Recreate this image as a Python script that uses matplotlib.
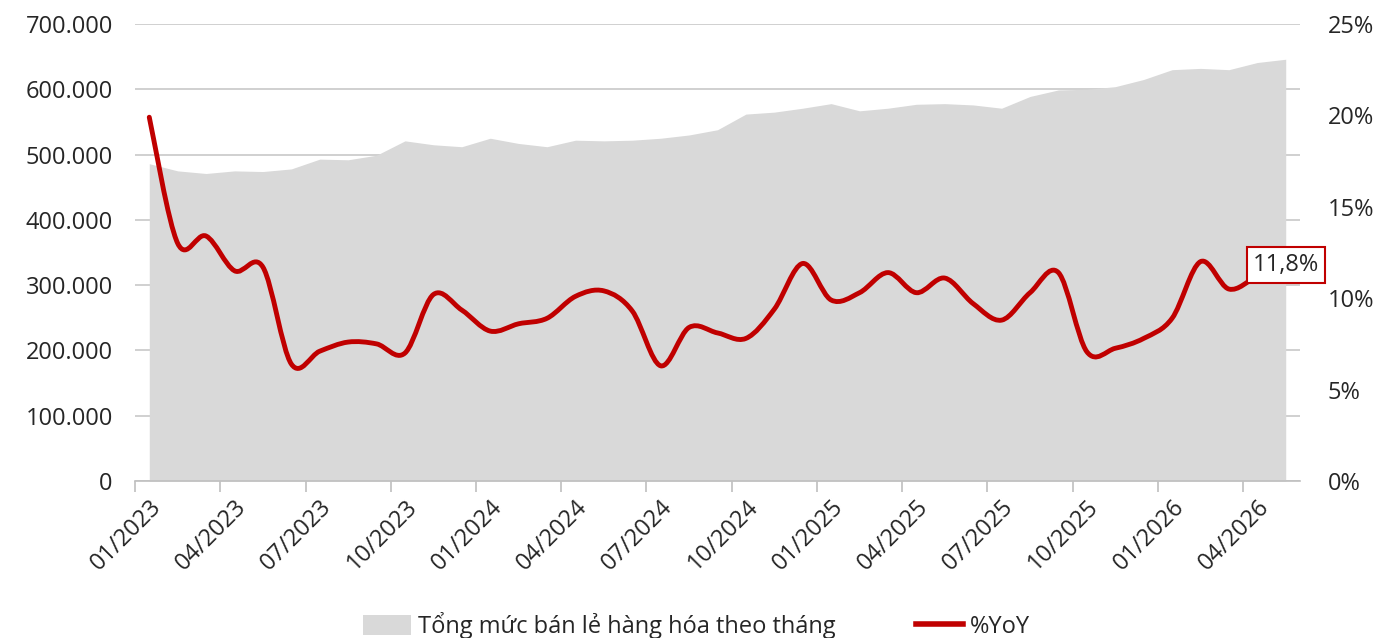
import matplotlib
matplotlib.use("Agg")
import matplotlib.pyplot as plt
import numpy as np
from matplotlib.path import Path
from matplotlib.patches import PathPatch, Patch
from matplotlib.lines import Line2D

plt.rcParams['font.family'] = ['Open Sans', 'DejaVu Sans']

# ---- Data ----
months = [f"{m:02d}/{y}" for y in (2023, 2024, 2025, 2026) for m in range(1, 13)][:41]

# Tổng mức bán lẻ hàng hóa theo tháng (left axis)
retail = [486000, 475000, 471000, 475000, 474000, 478000, 493000, 492000, 499000, 521000,
          515000, 512000, 525000, 517000, 512000, 522000, 521000, 522000, 525000, 530000,
          538000, 562000, 565000, 571000, 578000, 567000, 571000, 577000, 578000, 576000,
          571000, 589000, 599000, 600000, 604000, 615000, 630000, 632000, 630000, 641000,
          646000]

# %YoY (right axis)
yoy = [19.9, 13.0, 13.4, 11.5, 11.7, 6.4, 7.1, 7.6, 7.5, 7.0,
       10.2, 9.35, 8.2, 8.6, 8.9, 10.1, 10.4, 9.3, 6.3, 8.4,
       8.1, 7.8, 9.4, 11.9, 9.9, 10.3, 11.4, 10.3, 11.1, 9.7,
       8.8, 10.3, 11.4, 7.07, 7.26, 7.8, 8.9, 12.0, 10.5, 11.2,
       11.8]

left_ticks = [0, 100000, 200000, 300000, 400000, 500000, 600000, 700000]
right_ticks = [0, 5, 10, 15, 20, 25]

RED = '#C00000'
GREY = '#D9D9D9'
TXT = '#262626'
FS = 17


def smooth_path(xs, ys):
    # Excel-like smoothed line: Catmull-Rom segments as cubic Bezier curves
    pts = np.column_stack([xs, ys]).astype(float)
    n = len(pts)
    verts = [pts[0]]
    codes = [Path.MOVETO]
    for i in range(n - 1):
        p0 = pts[i - 1] if i > 0 else pts[i]
        p1 = pts[i]
        p2 = pts[i + 1]
        p3 = pts[i + 2] if i + 2 < n else pts[i + 1]
        verts += [p1 + (p2 - p0) / 6, p2 - (p3 - p1) / 6, p2]
        codes += [Path.CURVE4] * 3
    return Path(verts, codes)


x = np.arange(len(months))

fig = plt.figure(figsize=(13.74, 6.38), dpi=100)
ax = fig.add_axes([0.0983, 0.2461, 0.8478, 0.7163])
ax2 = ax.twinx()

# area series
ax.fill_between(x, retail, 0, color=GREY, lw=0, zorder=2)
ax.set_ylim(0, 700000)
ax.set_xlim(-0.5, len(months) - 0.5)
ax.set_yticks(left_ticks)
ax.set_yticklabels([f"{v:,}".replace(",", ".") for v in left_ticks])
ax.grid(axis='y', color='#C8C8C8', lw=1.2, zorder=0)
ax.set_axisbelow(True)

# x axis: labels every 3 months, tick marks between categories
ax.set_xticks(x[::3])
ax.set_xticklabels(months[::3], rotation=45, ha='right', va='top', rotation_mode='anchor')
ax.set_xticks(np.arange(-0.5, len(months) - 1, 3), minor=True)
ax.tick_params(axis='x', which='major', length=0, pad=10, labelsize=FS, colors=TXT)
ax.tick_params(axis='x', which='minor', length=8, width=1.2, color='#BFBFBF')
ax.tick_params(axis='y', length=0, pad=16, labelsize=FS, colors=TXT)

for s in ['top', 'left', 'right']:
    ax.spines[s].set_visible(False)
    ax2.spines[s].set_visible(False)
ax2.spines['bottom'].set_visible(False)
ax.spines['bottom'].set_color('#BFBFBF')
ax.spines['bottom'].set_linewidth(1.2)

# %YoY smoothed line
ax2.set_ylim(0, 25)
ax2.add_patch(PathPatch(smooth_path(x, yoy), fc='none', ec=RED, lw=3.5,
                        capstyle='round', joinstyle='round', zorder=3))
ax2.set_yticks(right_ticks)
ax2.set_yticklabels([f"{v}%" for v in right_ticks])
ax2.tick_params(axis='y', length=0, pad=20, labelsize=FS, colors=TXT)

ax2.annotate(f"{yoy[-1]:.1f}%".replace(".", ","), xy=(x[-1], yoy[-1]),
             ha='center', va='center', fontsize=FS, color=TXT, zorder=5,
             bbox=dict(boxstyle='square,pad=0.25', fc='white', ec=RED, lw=1.5))

handles = [Patch(fc=GREY, ec='none'), Line2D([], [], color=RED, lw=4)]
fig.legend(handles, ['Tổng mức bán lẻ hàng hóa theo tháng', '%YoY'],
           loc='lower center', bbox_to_anchor=(0.507, -0.035), ncol=2, frameon=False,
           fontsize=FS, handlelength=2.0, handleheight=0.9, handletextpad=0.3,
           columnspacing=3.4, labelcolor=TXT)

fig.savefig('out.png', dpi=100)
